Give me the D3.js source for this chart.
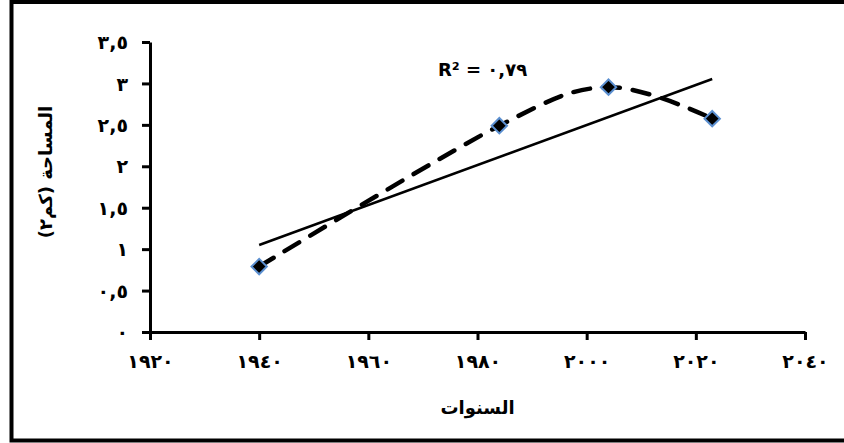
<!DOCTYPE html>
<html><head><meta charset="utf-8">
<script src="https://cdn.jsdelivr.net/npm/d3@7"></script>
<style>
html,body{margin:0;padding:0;background:#fff;}
svg{display:block;}
text{font-family:"DejaVu Sans",sans-serif;font-weight:bold;fill:#000;}
</style></head>
<body>
<script>
const years = [1940, 1984, 2004, 2023];
const areas = [0.79, 2.49, 2.955, 2.575];
const xTicks = [1920, 1940, 1960, 1980, 2000, 2020, 2040];
const xTickLabels = ["١٩٢٠", "١٩٤٠", "١٩٦٠", "١٩٨٠", "٢٠٠٠", "٢٠٢٠", "٢٠٤٠"];
const yTicks = [0, 0.5, 1, 1.5, 2, 2.5, 3, 3.5];
const yTickLabels = ["٠", "٠,٥", "١", "١,٥", "٢", "٢,٥", "٣", "٣,٥"];
const r2Label = "R² = ٠,٧٩";
const xTitle = "السنوات";
const yTitle = "المساحة (كم٢)";

const W = 844, H = 443;
const svg = d3.select("body").append("svg").attr("width", W).attr("height", H);

svg.append("rect").attr("x", 11.5).attr("y", 2).attr("width", 840).attr("height", 438.5)
  .attr("fill", "#fff").attr("stroke", "#000").attr("stroke-width", 4);

const x = d3.scaleLinear().domain([1920, 2040]).range([150, 805]);
const y = d3.scaleLinear().domain([0, 3.5]).range([332, 42]);

// axes
const xAxis = svg.append("g").attr("transform", `translate(0,${y(0)})`)
  .call(d3.axisBottom(x).tickValues(xTicks).tickSize(8).tickSizeOuter(0).tickFormat((d, i) => xTickLabels[i]));
const yAxis = svg.append("g").attr("transform", `translate(${x(1920)},0)`)
  .call(d3.axisLeft(y).tickValues(yTicks).tickSize(8).tickSizeOuter(0).tickFormat((d, i) => yTickLabels[i]));
[xAxis, yAxis].forEach(g => {
  g.select(".domain").attr("stroke", "#000").attr("stroke-width", 3);
  g.selectAll(".tick line").attr("stroke", "#000").attr("stroke-width", 3);
  g.selectAll(".tick text").attr("font-size", 19).attr("font-family", "DejaVu Sans").attr("font-weight", "bold").attr("fill", "#000");
});
xAxis.selectAll(".tick text").attr("y", 23).attr("dy", "0.71em").attr("letter-spacing", 3);
yAxis.selectAll(".tick text").attr("x", -22).attr("dy", "0.35em").attr("letter-spacing", 1);

// regression trendline
const mx = d3.mean(years), my = d3.mean(areas);
const sxy = d3.sum(years, (v, i) => (v - mx) * (areas[i] - my));
const sxx = d3.sum(years, v => (v - mx) ** 2);
const slope = sxy / sxx, icpt = my - slope * mx;
const x0 = years[0], x1 = years[years.length - 1];
svg.append("line")
  .attr("x1", x(x0)).attr("y1", y(icpt + slope * x0))
  .attr("x2", x(x1)).attr("y2", y(icpt + slope * x1))
  .attr("stroke", "#000").attr("stroke-width", 2.5);

// smoothed dashed line
const pts = years.map((v, i) => [v, areas[i]]);
svg.append("path").datum(pts)
  .attr("d", d3.line().x(d => x(d[0])).y(d => y(d[1])).curve(d3.curveCardinal.tension(0)))
  .attr("fill", "none").attr("stroke", "#000").attr("stroke-width", 4.5)
  .attr("stroke-dasharray", "17,13").attr("stroke-linecap", "round");

// markers
svg.selectAll(".mk").data(pts).enter().append("path")
  .attr("transform", d => `translate(${x(d[0])},${y(d[1])})`)
  .attr("d", d3.symbol().type(d3.symbolDiamond2).size(150)())
  .attr("fill", "#000").attr("stroke", "#5b8fd0").attr("stroke-width", 2);

// labels
svg.append("text").attr("x", 438).attr("y", 76).attr("font-size", 18)
  .attr("direction", "ltr").text(r2Label);
svg.append("text").attr("x", x(1980)).attr("y", 414).attr("text-anchor", "middle")
  .attr("font-size", 18).attr("direction", "rtl").attr("text-anchor", "middle").text(xTitle);
svg.append("text").attr("transform", "translate(52,172) rotate(-90)")
  .attr("text-anchor", "middle").attr("font-size", 18).attr("direction", "rtl").text(yTitle);
</script>
</body></html>
